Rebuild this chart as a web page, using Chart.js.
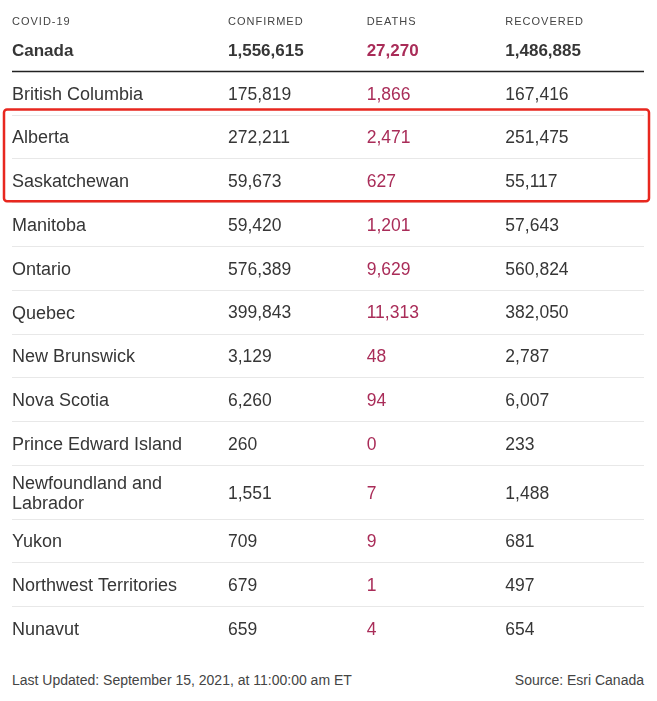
<!DOCTYPE html>
<html>
<head>
<meta charset="utf-8">
<script src="https://cdn.jsdelivr.net/npm/chart.js@4.4.0/dist/chart.umd.min.js"></script>
<style>
  body { margin: 0; background: #fff; }
  #wrap { position: relative; width: 657px; height: 701px; }
  #table { display: block; }
  #footer {
    position: absolute; left: 12px; right: 13px; top: 672px; height: 20px;
    display: flex; justify-content: space-between; line-height: 20px;
    font: 14px "Liberation Sans", Arial, sans-serif; color: #444;
  }
</style>
</head>
<body>
<div id="wrap">
  <canvas id="table" width="657" height="660"></canvas>
  <div id="footer">
    <span>Last Updated: September 15, 2021, at 11:00:00 am ET</span>
    <span>Source: Esri Canada</span>
  </div>
</div>
<script>
const headers = ['COVID-19', 'CONFIRMED', 'DEATHS', 'RECOVERED']
const regions = ['Canada', 'British Columbia', 'Alberta', 'Saskatchewan', 'Manitoba', 'Ontario', 'Quebec',
  'New Brunswick', 'Nova Scotia', 'Prince Edward Island', ['Newfoundland and', 'Labrador'],
  'Yukon', 'Northwest Territories', 'Nunavut']
const confirmed = [1556615, 175819, 272211, 59673, 59420, 576389, 399843, 3129, 6260, 260, 1551, 709, 679, 659]
const deaths = [27270, 1866, 2471, 627, 1201, 9629, 11313, 48, 94, 0, 7, 9, 1, 4]
const recovered = [1486885, 167416, 251475, 55117, 57643, 560824, 382050, 2787, 6007, 233, 1488, 681, 497, 654]
const highlighted = ['Alberta', 'Saskatchewan']

const FONT = '"Liberation Sans", Arial, sans-serif'
const TEXT = '#363636'
const RED = '#a92c58'

// row heights in "row units": a wrapped label makes its row a little taller
const rowSize = regions.map(r => Array.isArray(r) ? 1 + 10 / 44 : 1)
const rowStart = []
let acc = 0
rowSize.forEach(s => { rowStart.push(acc); acc += s })
const rowEnd = rowStart.map((s, i) => s + rowSize[i])
const rowMid = rowStart.map((s, i) => s + rowSize[i] / 2)

function series(values, col) {
  return values.map((v, i) => ({ x: col, y: rowMid[i], v: v }))
}

const cellText = {
  id: 'cellText',
  afterDatasetsDraw(chart) {
    const ctx = chart.ctx
    ctx.save()
    ctx.textAlign = 'left'
    ctx.textBaseline = 'middle'
    chart.data.datasets.forEach((ds, d) => {
      chart.getDatasetMeta(d).data.forEach((el, i) => {
        ctx.font = i === 0 ? 'bold 17px ' + FONT : '17.5px ' + FONT
        ctx.fillStyle = ds.textColor
        ctx.fillText(ds.data[i].v.toLocaleString('en-US'), el.x, el.y + 2)
      })
    })
    ctx.restore()
  }
}

const tableFrame = {
  id: 'tableFrame',
  beforeDatasetsDraw(chart) {
    const ctx = chart.ctx
    const x = chart.scales.x, y = chart.scales.y
    const left = y.left, right = chart.chartArea.right
    ctx.save()
    // column headers
    ctx.font = '11px ' + FONT
    ctx.letterSpacing = '1px'
    ctx.fillStyle = '#444'
    ctx.textBaseline = 'middle'
    headers.forEach((h, i) => {
      const px = i === 0 ? left : x.getPixelForValue(i - 1)
      ctx.fillText(h, px, 21.5)
    })
    ctx.letterSpacing = '0px'
    // row separators
    rowEnd.slice(0, -1).forEach((b, i) => {
      const py = Math.round(y.getPixelForValue(b)) + 0.5
      ctx.beginPath()
      ctx.moveTo(left, py)
      ctx.lineTo(right, py)
      ctx.strokeStyle = i === 0 ? '#222' : '#e8e8e8'
      ctx.lineWidth = i === 0 ? 1.5 : 1
      ctx.stroke()
    })
    ctx.restore()
  },
  afterDraw(chart) {
    const ctx = chart.ctx
    const y = chart.scales.y
    const idx = highlighted.map(h => regions.indexOf(h))
    const top = y.getPixelForValue(rowStart[Math.min(...idx)]) - 5
    const bottom = y.getPixelForValue(rowEnd[Math.max(...idx)]) - 1
    ctx.save()
    ctx.strokeStyle = '#e8271f'
    ctx.lineWidth = 2.5
    ctx.beginPath()
    ctx.roundRect(4, top, 645, bottom - top, 3)
    ctx.stroke()
    ctx.restore()
  }
}

new Chart(document.getElementById('table'), {
  type: 'scatter',
  data: {
    datasets: [
      { label: headers[1], data: series(confirmed, 0), textColor: TEXT },
      { label: headers[2], data: series(deaths, 1), textColor: RED },
      { label: headers[3], data: series(recovered, 2), textColor: TEXT }
    ]
  },
  options: {
    responsive: false,
    animation: false,
    events: [],
    layout: { padding: { top: 27, left: 12, right: 13, bottom: 7 } },
    elements: { point: { radius: 0, hoverRadius: 0 } },
    plugins: { legend: { display: false }, tooltip: { enabled: false } },
    scales: {
      x: { type: 'linear', min: 0, max: 3, display: false },
      y: {
        type: 'linear',
        min: 0,
        max: acc,
        reverse: true,
        grid: { display: false },
        border: { display: false },
        afterBuildTicks: scale => { scale.ticks = rowMid.map(v => ({ value: v })) },
        afterFit: scale => { scale.width = 216 },
        ticks: {
          autoSkip: false,
          padding: 0,
          labelOffset: 2,
          crossAlign: 'far',
          color: TEXT,
          font: c => c.index === 0
            ? { family: FONT, size: 17, lineHeight: '20px', weight: 'bold' }
            : { family: FONT, size: 18, lineHeight: '20px', weight: 'normal' },
          callback: (v, i) => regions[i]
        }
      }
    }
  },
  plugins: [tableFrame, cellText]
})
</script>
</body>
</html>
